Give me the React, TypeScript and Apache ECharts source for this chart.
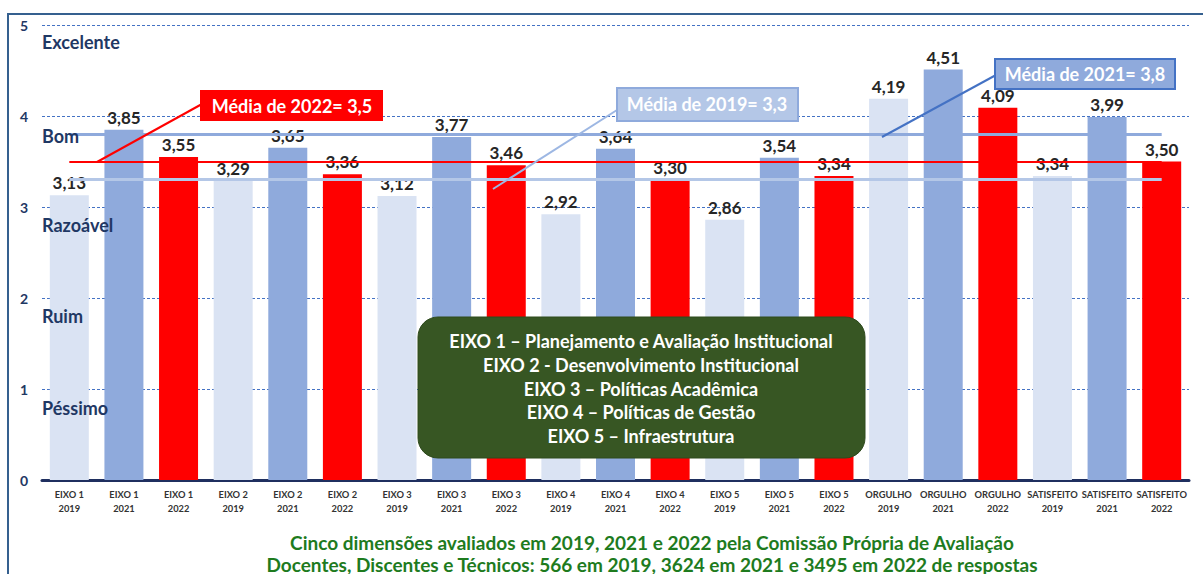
import React, { useEffect, useRef } from "react";
import * as echarts from "echarts";

const categories = [
  "EIXO 1\n2019", "EIXO 1\n2021", "EIXO 1\n2022",
  "EIXO 2\n2019", "EIXO 2\n2021", "EIXO 2\n2022",
  "EIXO 3\n2019", "EIXO 3\n2021", "EIXO 3\n2022",
  "EIXO 4\n2019", "EIXO 4\n2021", "EIXO 4\n2022",
  "EIXO 5\n2019", "EIXO 5\n2021", "EIXO 5\n2022",
  "ORGULHO\n2019", "ORGULHO\n2021", "ORGULHO\n2022",
  "SATISFEITO\n2019", "SATISFEITO\n2021", "SATISFEITO\n2022",
];
const years = [
  "2019", "2021", "2022", "2019", "2021", "2022", "2019", "2021", "2022",
  "2019", "2021", "2022", "2019", "2021", "2022", "2019", "2021", "2022",
  "2019", "2021", "2022",
];
const values = [
  3.13, 3.85, 3.55, 3.29, 3.65, 3.36, 3.12, 3.77, 3.46,
  2.92, 3.64, 3.30, 2.86, 3.54, 3.34, 4.19, 4.51, 4.09,
  3.34, 3.99, 3.50,
];
const averages = [
  { year: "2021", value: 3.8 },
  { year: "2022", value: 3.5 },
  { year: "2019", value: 3.3 },
];
const levelLabels = ["Excelente", "Bom", "Razoável", "Ruim", "Péssimo"];
const legendLines = [
  "EIXO 1 – Planejamento e Avaliação Institucional",
  "EIXO 2 - Desenvolvimento Institucional",
  "EIXO 3 – Políticas Acadêmica",
  "EIXO 4 – Políticas de Gestão",
  "EIXO 5 – Infraestrutura",
];
const footerLines = [
  "Cinco dimensões avaliados em 2019, 2021 e 2022 pela Comissão Própria de Avaliação",
  "Docentes, Discentes e Técnicos: 566 em 2019, 3624 em 2021 e 3495 em 2022 de respostas",
];

const yearColors: Record<string, string> = {
  "2019": "#DAE3F3",
  "2021": "#8FAADC",
  "2022": "#FF0000",
};
const avgLineColors: Record<string, string> = {
  "2019": "#B4C7E7",
  "2021": "#8FAADC",
  "2022": "#FF0000",
};
const FONT = "Lato, 'Open Sans', sans-serif";

export default function App() {
  const ref = useRef<HTMLDivElement>(null);
  useEffect(() => {
    if (!ref.current) return;
    const chart = echarts.init(ref.current, null, { renderer: "svg" });
    const fmt = (v: number) => v.toFixed(2).replace(".", ",");
    const levelY = [42, 136, 225, 316, 408];
    const option: any = {
      animation: false,
      backgroundColor: "#ffffff",
      textStyle: { fontFamily: FONT },
      grid: { left: 42, right: 14, top: 25, bottom: 94 },
      xAxis: {
        type: "category",
        data: categories,
        axisTick: { show: false },
        axisLine: { lineStyle: { color: "#1F2F5F", width: 3 } },
        axisLabel: {
          interval: 0,
          fontFamily: FONT,
          fontSize: 9.3,
          fontWeight: "bold",
          color: "#333333",
          lineHeight: 14,
          margin: 7,
        },
      },
      yAxis: {
        type: "value",
        min: 0,
        max: 5,
        interval: 1,
        axisLine: { show: false },
        axisTick: { show: false },
        axisLabel: {
          fontFamily: FONT,
          fontSize: 14,
          fontWeight: "bold",
          color: "#1F3864",
          margin: 14,
        },
        splitLine: {
          lineStyle: { color: "#4472C4", width: 1, type: [3, 2] },
        },
      },
      series: [
        {
          type: "bar",
          barWidth: 39,
          z: 2,
          data: values.map((v, i) => ({
            value: v,
            itemStyle: { color: yearColors[years[i]] },
          })),
          label: {
            show: true,
            position: "top",
            distance: 4,
            fontFamily: FONT,
            fontSize: 17,
            fontWeight: "bold",
            color: "#262626",
            formatter: (p: any) => fmt(p.value),
          },
          markLine: {
            silent: true,
            symbol: "none",
            z: 5,
            label: { show: false },
            data: averages.map((a) => [
              {
                coord: [categories[0], a.value],
                lineStyle: {
                  color: avgLineColors[a.year],
                  width: a.year === "2022" ? 2 : 3,
                  type: "solid",
                },
              },
              { coord: [categories[categories.length - 1], a.value] },
            ]),
          },
        },
      ],
      graphic: [
        {
          type: "rect",
          shape: { x: 8, y: 14, width: 1400, height: 800 },
          style: { fill: "none", stroke: "#35608F", lineWidth: 2 },
          silent: true,
          z: 0,
        },
        ...levelLabels.map((t, i) => ({
          type: "text",
          x: 42,
          y: levelY[i],
          z: 10,
          style: {
            text: t,
            fill: "#1F3864",
            font: `bold 18px ${FONT}`,
            verticalAlign: "middle",
          },
        })),
        // 2022 callout
        {
          type: "line",
          z: 10,
          shape: { x1: 97, y1: 162, x2: 202, y2: 104 },
          style: { stroke: "#FF0000", lineWidth: 2 },
        },
        {
          type: "rect",
          z: 10,
          shape: { x: 200, y: 90, width: 183, height: 31 },
          style: { fill: "#FF0000" },
        },
        {
          type: "text",
          z: 11,
          x: 292,
          y: 106,
          style: {
            text: "Média de 2022= 3,5",
            fill: "#ffffff",
            font: `bold 18px ${FONT}`,
            align: "center",
            verticalAlign: "middle",
          },
        },
        // 2019 callout
        {
          type: "line",
          z: 10,
          shape: { x1: 493, y1: 189, x2: 617, y2: 110 },
          style: { stroke: "#9DB7E3", lineWidth: 2 },
        },
        {
          type: "rect",
          z: 10,
          shape: { x: 617, y: 88, width: 181, height: 33 },
          style: { fill: "#B4C7E7", stroke: "#8FAADC", lineWidth: 2 },
        },
        {
          type: "text",
          z: 11,
          x: 707,
          y: 104,
          style: {
            text: "Média de 2019= 3,3",
            fill: "#ffffff",
            font: `bold 18px ${FONT}`,
            align: "center",
            verticalAlign: "middle",
          },
        },
        // 2021 callout
        {
          type: "line",
          z: 10,
          shape: { x1: 882, y1: 137, x2: 996, y2: 75 },
          style: { stroke: "#4472C4", lineWidth: 2 },
        },
        {
          type: "rect",
          z: 10,
          shape: { x: 995, y: 59, width: 180, height: 30 },
          style: { fill: "#8FAADC", stroke: "#4472C4", lineWidth: 2 },
        },
        {
          type: "text",
          z: 11,
          x: 1085,
          y: 74,
          style: {
            text: "Média de 2021= 3,8",
            fill: "#ffffff",
            font: `bold 18px ${FONT}`,
            align: "center",
            verticalAlign: "middle",
          },
        },
        // green legend box
        {
          type: "rect",
          z: 10,
          shape: { x: 418, y: 317, width: 447, height: 141, r: 20 },
          style: { fill: "#375623", stroke: "#2E4A1D", lineWidth: 1 },
        },
        ...legendLines.map((t, i) => ({
          type: "text",
          z: 11,
          x: 641,
          y: 341 + i * 23.8,
          style: {
            text: t,
            fill: "#ffffff",
            font: `bold 18px ${FONT}`,
            align: "center",
            verticalAlign: "middle",
          },
        })),
        ...footerLines.map((t, i) => ({
          type: "text",
          z: 11,
          x: 652,
          y: 542 + i * 22,
          style: {
            text: t,
            fill: "#1E7B1E",
            font: `bold 19px ${FONT}`,
            align: "center",
            verticalAlign: "middle",
          },
        })),
      ],
    };
    chart.setOption(option);
    return () => chart.dispose();
  }, []);
  return (
    <div
      ref={ref}
      style={{ position: "fixed", left: 0, top: 0, width: 1203, height: 574 }}
    />
  );
}
